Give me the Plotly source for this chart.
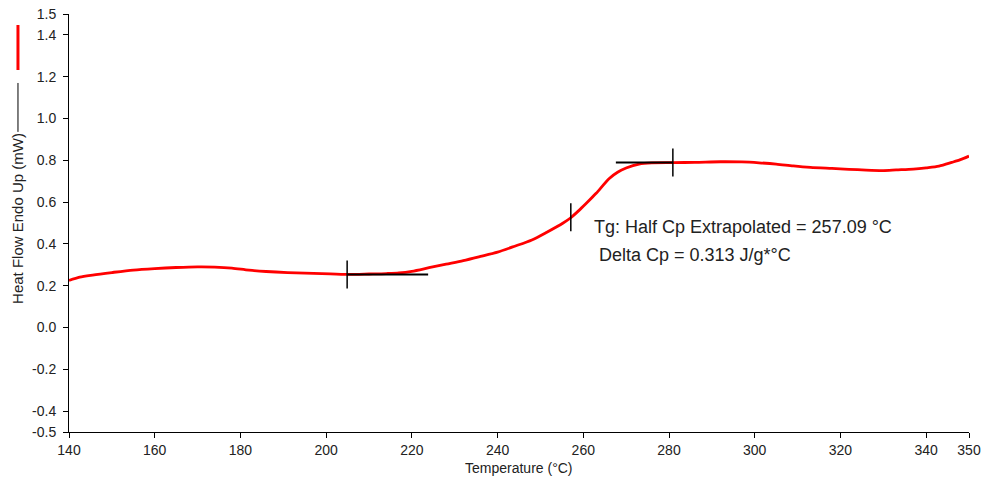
import plotly.graph_objects as go

# Data
temperature = [140, 142.5, 145.5, 150, 155, 160, 165, 170, 174, 178, 182, 186, 191, 199, 205,
               210, 214, 217, 220, 224, 228, 232, 236, 240, 244, 248, 251.5, 255.3, 257, 259.2,
               261, 263, 266, 268, 270, 273, 276, 281, 286, 292, 297, 301, 305, 309, 313,
               318, 322, 326, 330, 333, 337, 340, 343, 346, 348, 350]
heat_flow = [0.225, 0.241, 0.251, 0.263, 0.275, 0.282, 0.287, 0.290, 0.289, 0.284, 0.274, 0.268,
             0.263, 0.258, 0.254, 0.256, 0.258, 0.261, 0.269, 0.286, 0.303, 0.320, 0.340, 0.361,
             0.389, 0.419, 0.456, 0.500, 0.524, 0.564, 0.600, 0.642, 0.712, 0.743, 0.763, 0.782,
             0.788, 0.789, 0.790, 0.793, 0.792, 0.788, 0.782, 0.773, 0.766, 0.761, 0.757, 0.753,
             0.751, 0.754, 0.758, 0.764, 0.772, 0.790, 0.803, 0.820]

onset_baseline_x = [205, 223.8]
onset_baseline_y = [0.254, 0.254]
end_baseline_x = [267.6, 280.9]
end_baseline_y = [0.790, 0.790]
marker_x = [204.9, 257.09, 280.9]
marker_y = [0.254, 0.528, 0.790]
marker_half = 0.067

x_ticks = [140, 160, 180, 200, 220, 240, 260, 280, 300, 320, 340, 350]
y_ticks = [1.5, 1.4, 1.2, 1.0, 0.8, 0.6, 0.4, 0.2, 0.0, -0.2, -0.4, -0.5]
y_tick_text = [f"{v:.1f}" for v in y_ticks]

tg_text = "Tg: Half Cp Extrapolated = 257.09 °C"
dcp_text = "Delta Cp = 0.313 J/g*°C"

fig = go.Figure()
fig.add_trace(go.Scatter(x=temperature, y=heat_flow, mode="lines",
                         line=dict(color="#ff0000", width=2.8, shape="spline", smoothing=0.8),
                         showlegend=False, hoverinfo="skip"))
fig.add_trace(go.Scatter(x=onset_baseline_x, y=onset_baseline_y, mode="lines",
                         line=dict(color="black", width=2), showlegend=False))
fig.add_trace(go.Scatter(x=end_baseline_x, y=end_baseline_y, mode="lines",
                         line=dict(color="black", width=2), showlegend=False))
for mx, my in zip(marker_x, marker_y):
    fig.add_trace(go.Scatter(x=[mx, mx], y=[my - marker_half, my + marker_half], mode="lines",
                             line=dict(color="black", width=1.5), showlegend=False))

font_family = "Liberation Sans, Arial, sans-serif"

fig.add_annotation(x=262.0, y=0.48, xref="x", yref="y", text=tg_text, showarrow=False,
                   xanchor="left", yanchor="middle", font=dict(family=font_family, size=18, color="#222"))
fig.add_annotation(x=263.2, y=0.345, xref="x", yref="y", text=dcp_text, showarrow=False,
                   xanchor="left", yanchor="middle", font=dict(family=font_family, size=18, color="#222"))

# y title (rotated) with series indicator lines
fig.add_annotation(x=-0.0567, y=0.512, xref="paper", yref="paper", text="Heat Flow Endo Up (mW)",
                   textangle=-90, showarrow=False, xanchor="center", yanchor="middle",
                   font=dict(family=font_family, size=15, color="#222"))
fig.add_annotation(x=0.5, y=-0.086, xref="paper", yref="paper", text="Temperature (°C)",
                   showarrow=False, xanchor="center", yanchor="middle",
                   font=dict(family=font_family, size=14, color="#222"))
fig.add_shape(type="line", xref="paper", yref="paper", x0=-0.0567, x1=-0.0567, y0=0.866, y1=0.9737,
              line=dict(color="#ff0000", width=3))
fig.add_shape(type="line", xref="paper", yref="paper", x0=-0.0567, x1=-0.0567, y0=0.718, y1=0.835,
              line=dict(color="black", width=1))

axis_common = dict(showline=True, linecolor="black", linewidth=1, ticks="outside", ticklen=5,
                   tickcolor="black", showgrid=False, zeroline=False, mirror=False, automargin=False,
                   tickfont=dict(family=font_family, size=14, color="#222"))
fig.update_xaxes(range=[140, 350], tickvals=x_ticks, ticktext=[str(t) for t in x_ticks], **axis_common)
fig.update_yaxes(range=[-0.5, 1.5], tickvals=y_ticks, ticktext=y_tick_text, ticklabelstandoff=4,
                 **axis_common)

fig.update_layout(width=986, height=481, autosize=False,
                  margin=dict(l=69, r=17, t=14, b=49, pad=0),
                  plot_bgcolor="white", paper_bgcolor="white", showlegend=False)

fig.write_html("out.html", config={"displayModeBar": False},
               post_script="document.body.style.margin='0';document.body.style.overflow='hidden';")
